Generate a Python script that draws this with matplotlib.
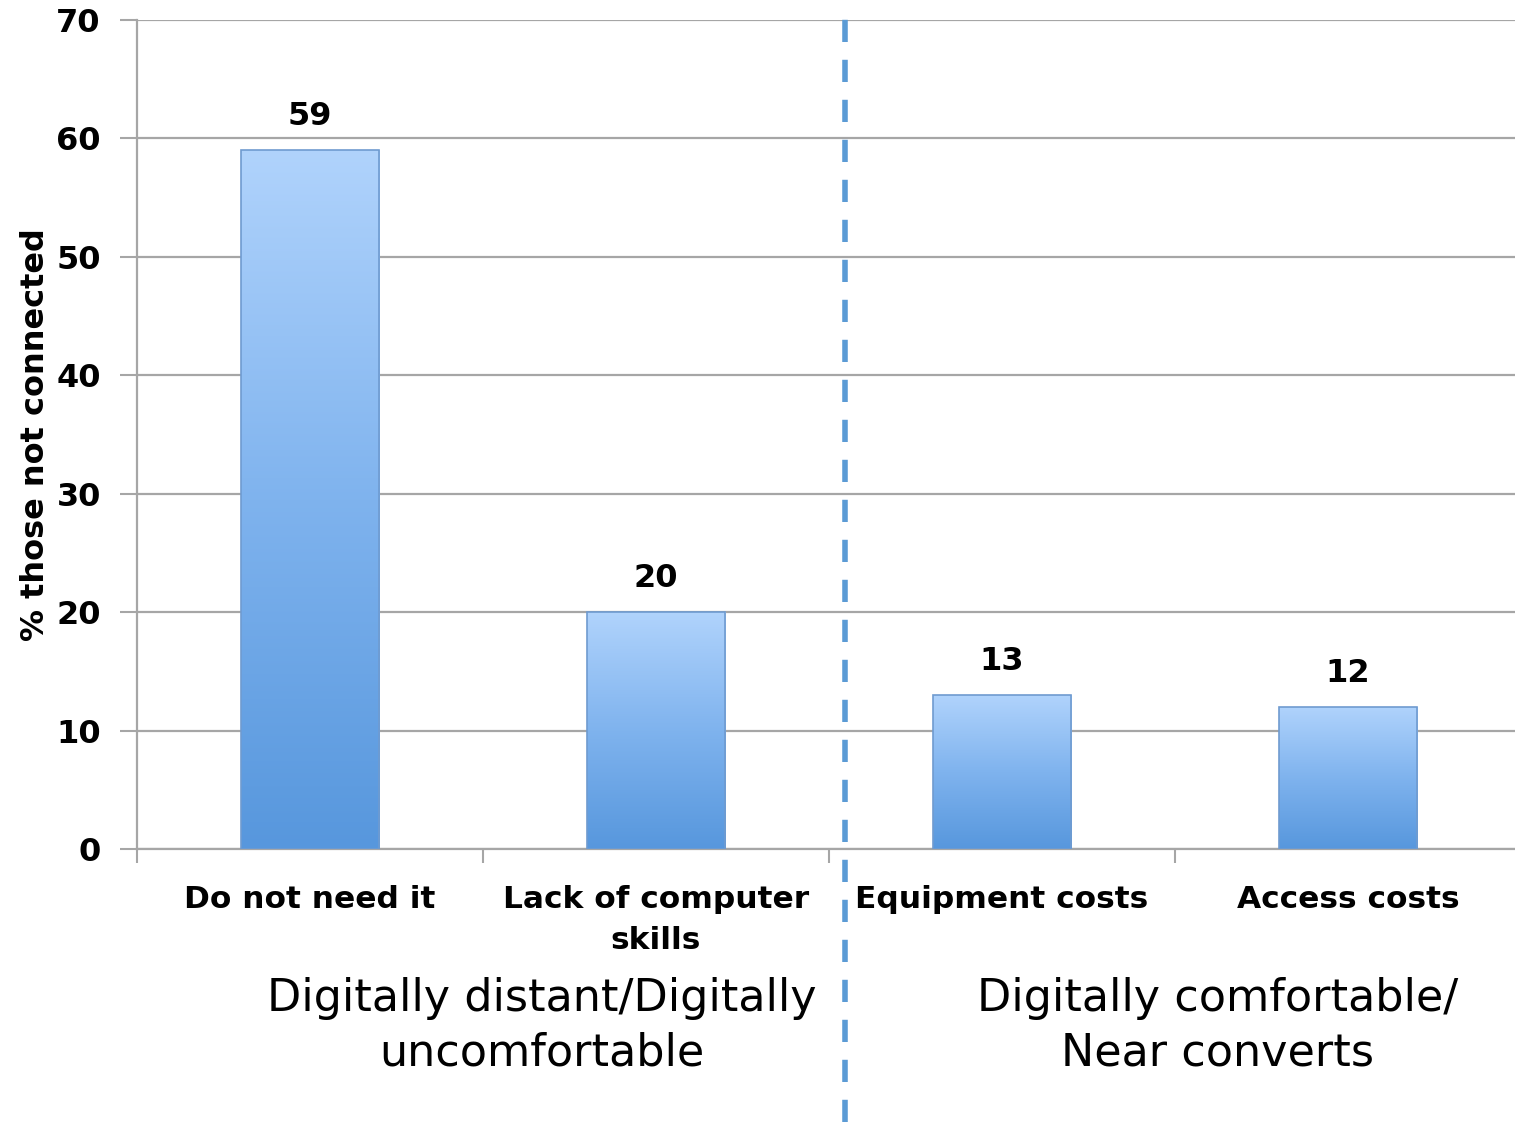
import numpy as np
import matplotlib.pyplot as plt
from matplotlib.colors import LinearSegmentedColormap
from matplotlib.lines import Line2D
import matplotlib.transforms as mtransforms

plt.rcParams['font.family'] = ['DejaVu Sans']

categories = ['Do not need it', 'Lack of computer\nskills', 'Equipment costs', 'Access costs']
values = [59, 20, 13, 12]
groups = ['Digitally distant/Digitally\nuncomfortable', 'Digitally comfortable/\nNear converts']
group_centres = [0.67, 2.623]
yticks = [0, 10, 20, 30, 40, 50, 60, 70]

grid_c = '#a6a6a6'
bar_cmap = LinearSegmentedColormap.from_list('barfill', ['#5797dd', '#7fb3ee', '#b0d3fc'])

fig = plt.figure(figsize=(15.15, 11.22), dpi=100)
ax = fig.add_axes([0.0904, 0.2433, 0.9135, 0.7389])

x = np.arange(len(categories))
width = 0.4
bars = ax.bar(x, values, width=width, color='none', edgecolor='#6f9bd0', linewidth=1.2, zorder=4)

# vertical gradient fill, clipped to each bar
grad = np.linspace(0, 1, 256).reshape(-1, 1)
for b in bars:
    x0, h = b.get_x(), b.get_height()
    im = ax.imshow(grad, cmap=bar_cmap, origin='lower', aspect='auto',
                   extent=[x0, x0 + width, 0, h], zorder=3)
    im.set_clip_path(b)
    ax.text(b.get_x() + width / 2, h + 1.5, f'{h:g}', ha='center', va='bottom',
            fontsize=23, fontweight='bold')

ax.set_xlim(-0.5, 3.5)
ax.set_ylim(0, 70)
ax.set_yticks(yticks)
ax.set_yticklabels([str(t) for t in yticks], fontsize=23, fontweight='bold')
ax.yaxis.grid(True, color=grid_c, linewidth=1.6, zorder=0)
ax.set_axisbelow(True)

ax.set_xticks([-0.5, 0.5, 1.5, 2.5, 3.5])
ax.set_xticklabels([])
ax.tick_params(axis='x', length=10, width=1.5, color=grid_c)
ax.tick_params(axis='y', length=12, width=1.5, color=grid_c, pad=14)

for side in ['top', 'right']:
    ax.spines[side].set_visible(False)
for side in ['left', 'bottom']:
    ax.spines[side].set_color(grid_c)
    ax.spines[side].set_linewidth(1.6)

for xi, lab in zip(x, categories):
    ax.text(xi, -3.0, lab, ha='center', va='top', fontsize=22.5, fontweight='bold',
            linespacing=1.55)

for gx, g in zip(group_centres, groups):
    ax.text(gx, -10.8, g, ha='center', va='top', fontsize=32, fontweight='normal',
            linespacing=1.33)

ax.set_ylabel('% those not connected', fontsize=23, fontweight='bold')
ax.yaxis.set_label_coords(-0.062, 0.5)

# dashed divider between the two groups, running the full figure height
trans = mtransforms.blended_transform_factory(ax.transData, fig.transFigure)
fig.add_artist(Line2D([1.546, 1.546], [0.0, 0.988], transform=trans, color='#5b9bd5',
                      linewidth=4, linestyle=(0, (4, 3.2))))

fig.savefig('out.png', dpi=100)
